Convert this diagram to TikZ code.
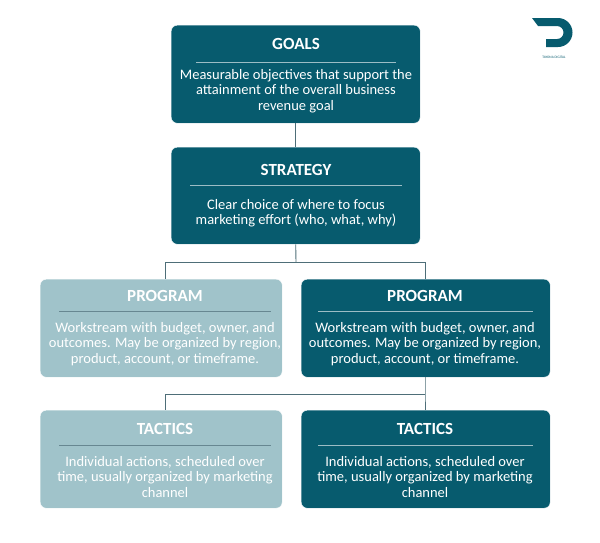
\documentclass[tikz,border=0pt]{standalone}
\usepackage{fontspec}
\setmainfont{Carlito}
\begin{document}
\begin{tikzpicture}[x=1pt,y=-1pt,
  dark/.style={fill=tdark,draw=white,rounded corners=6pt},
  light/.style={fill=tlight,draw=white,rounded corners=6pt},
  ttl/.style={text=white,font=\bfseries\fontsize{17}{19}\selectfont},
  body/.style={text=white,font=\fontsize{14.5}{15.5}\selectfont,align=center,inner sep=0pt},
  sep/.style={draw=white!60!tdark,line width=0.8pt},
  sepl/.style={draw=tline!70!tlight,line width=0.8pt},
  conn/.style={draw=tline,line width=0.9pt}]
\definecolor{tdark}{HTML}{075B6E}
\definecolor{tlight}{HTML}{A0C3CA}
\definecolor{tline}{HTML}{4E6E78}
\useasboundingbox (0,0) rectangle (600,542);
\coordinate (s1) at (296,262);
\coordinate (sl) at (165,262);
\coordinate (sr) at (425,262);
\coordinate (p1) at (425,394);
\coordinate (pl) at (165,394);
\node[dark,minimum width=249pt,minimum height=98pt,anchor=north west] (goals) at (171,25) {};
\node[dark,minimum width=249pt,minimum height=97pt,anchor=north west] (strat) at (171,147) {};
\node[light,minimum width=242pt,minimum height=98pt,anchor=north west] (pl1) at (40,279) {};
\node[dark,minimum width=249pt,minimum height=98pt,anchor=north west] (pr1) at (301,279) {};
\node[light,minimum width=242pt,minimum height=98pt,anchor=north west] (tl1) at (40,410) {};
\node[dark,minimum width=249pt,minimum height=98pt,anchor=north west] (tr1) at (301,410) {};
\draw[conn] (goals.south) -- (strat.north);
\draw[conn] (strat.south) -- (s1);
\draw[conn] (sl) -- (sr);
\draw[conn] (sl) -- (sl|-pl1.north);
\draw[conn] (sr) -- (sr|-pr1.north);
\draw[conn] (sr|-pr1.south) -- (p1) -- (sr|-tr1.north);
\draw[conn] (p1) -- (pl) -- (pl|-tl1.north);
\node[ttl] (gt) at (296,44) {GOALS};
\draw[sep] (196,62) -- (396,62);
\node[body,anchor=north] (gb) at (296,69) {Measurable objectives that support the\\attainment of the overall business\\revenue goal};
\node[ttl] (st) at (296,170) {STRATEGY};
\draw[sep] (190,185) -- (402,185);
\node[body,anchor=north] (sb) at (296,199) {Clear choice of where to focus\\marketing effort (who, what, why)};
\node[ttl] (plt) at (165,296) {PROGRAM};
\draw[sepl] (59,311) -- (271,311);
\node[body,anchor=north] (plb) at (165,322) {Workstream with budget, owner, and\\outcomes. May be organized by region,\\product, account, or timeframe.};
\node[ttl] (prt) at (425,296) {PROGRAM};
\draw[sep] (318,311) -- (533,311);
\node[body,anchor=north] (prb) at (425,322) {Workstream with budget, owner, and\\outcomes. May be organized by region,\\product, account, or timeframe.};
\node[ttl] (tlt) at (165,429) {TACTICS};
\draw[sepl] (59,445) -- (271,445);
\node[body,anchor=north] (tlb) at (165,456) {Individual actions, scheduled over\\time, usually organized by marketing\\channel};
\node[ttl] (trt) at (425,429) {TACTICS};
\draw[sep] (318,445) -- (533,445);
\node[body,anchor=north] (trb) at (425,456) {Individual actions, scheduled over\\time, usually organized by marketing\\channel};
% logo
\fill[tdark] (532,18) -- (558,18) arc (-90:90:14.5) -- (546,47) -- (546,39) -- (557,39) arc (90:-90:6.5) -- (546,26) -- (538,26) -- cycle;
\node[text=tdark,font=\fontsize{3.5}{4}\selectfont] (lt) at (554,57) {TAYONA DIGITAL};
\end{tikzpicture}
\end{document}
